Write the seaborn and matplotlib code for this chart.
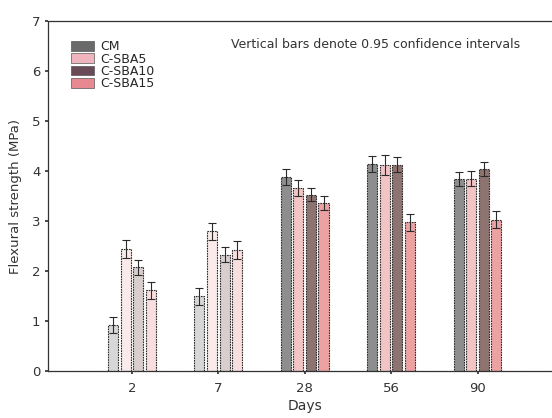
import matplotlib
matplotlib.use("Agg")
import matplotlib.pyplot as plt
import seaborn as sns
import pandas as pd
import numpy as np
from matplotlib.patches import Patch

days = ["2", "7", "28", "56", "90"]
series = ["CM", "C-SBA5", "C-SBA10", "C-SBA15"]
cm = [0.92, 1.50, 3.88, 4.15, 3.85]
sba5 = [2.45, 2.80, 3.67, 4.13, 3.85]
sba10 = [2.08, 2.33, 3.53, 4.13, 4.05]
sba15 = [1.62, 2.43, 3.37, 2.98, 3.03]
cm_err = [0.16, 0.17, 0.16, 0.16, 0.14]
sba5_err = [0.18, 0.17, 0.16, 0.20, 0.15]
sba10_err = [0.15, 0.15, 0.13, 0.15, 0.14]
sba15_err = [0.17, 0.18, 0.14, 0.17, 0.17]

legend_colors = ["#6a6a6a", "#efb4be", "#6b4a58", "#e88890"]
bar_colors = ["#8e8e8e", "#f3c4c4", "#8e7470", "#eca2a2"]

values = [cm, sba5, sba10, sba15]
errs = [cm_err, sba5_err, sba10_err, sba15_err]
df = pd.DataFrame({
    "Days": np.tile(days, len(series)),
    "Series": np.repeat(series, len(days)),
    "Value": np.concatenate(values),
    "Err": np.concatenate(errs),
})

sns.set_theme(style="white")
plt.rcParams['font.family'] = ['DejaVu Sans']

fig = plt.figure(figsize=(5.52, 4.18), dpi=100)
ax = fig.add_axes([0.087, 0.112, 0.93, 0.838])

sns.barplot(data=df, x="Days", y="Value", hue="Series", order=days,
            hue_order=series, palette=bar_colors, width=0.58, gap=0.2,
            errorbar=None, ax=ax, legend=False, saturation=1,
            edgecolor="#2a2a2a", linewidth=0.8)

patches = [p for p in ax.patches]
for si, s in enumerate(series):
    for di, d in enumerate(days):
        p = patches[si * len(days) + di]
        p.set_linestyle((0, (1.5, 0.8)))
        if di < 2:
            c = matplotlib.colors.to_rgba(bar_colors[si])
            p.set_facecolor((c[0], c[1], c[2], 0.35))
        xc = p.get_x() + p.get_width() / 2
        ax.errorbar(xc, values[si][di], yerr=errs[si][di], fmt='none',
                    ecolor="#2a2a2a", elinewidth=0.8, capsize=3, capthick=0.8,
                    zorder=5)

ax.set_ylim(0, 7)
ax.set_xlim(-0.97, 4.97)
ax.set_yticks(range(0, 8))
ax.set_xlabel("Days", fontsize=10, color="#333333", labelpad=3)
ax.set_ylabel("Flexural strength (MPa)", fontsize=9.5, color="#333333", labelpad=7)
ax.tick_params(axis='both', labelsize=9.5, colors="#333333", length=2,
               direction='out', left=True, bottom=True)
ax.tick_params(axis='x', pad=6)
for side in ["left", "bottom", "top"]:
    ax.spines[side].set_visible(True)
    ax.spines[side].set_color("#333333")
    ax.spines[side].set_linewidth(0.9)
    ax.spines[side].set_linestyle((0, (2, 0.8)))
ax.spines["right"].set_visible(False)

handles = [Patch(facecolor=c, edgecolor="#555555", linewidth=0.5) for c in legend_colors]
ax.legend(handles, series, loc="upper left", bbox_to_anchor=(0.045, 0.945),
          frameon=False, fontsize=9, handlelength=1.85, handleheight=0.8,
          labelspacing=-0.05, handletextpad=0.45, borderaxespad=0, borderpad=0)

ax.text(0.92, 0.934, "Vertical bars denote 0.95 confidence intervals",
        transform=ax.transAxes, fontsize=9, ha="right", va="center",
        color="#333333")

fig.savefig("out.png", dpi=100)
